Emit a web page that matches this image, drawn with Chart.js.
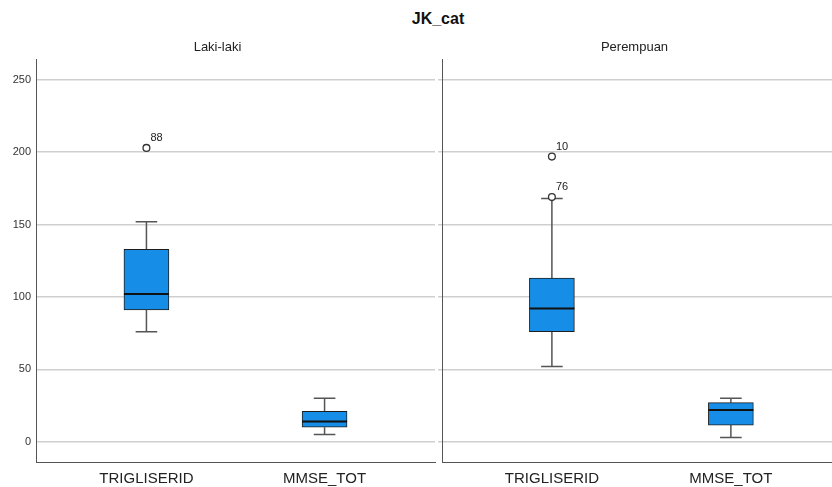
<!DOCTYPE html>
<html>
<head>
<meta charset="utf-8">
<script src="https://cdn.jsdelivr.net/npm/chart.js@4"></script>
<style>
  body { margin: 0; background: #fff; }
  #wrap { position: relative; width: 832px; height: 487px; }
  #mainTitle { position: absolute; left: 0; top: 10px; width: 876px; text-align: center;
    font: bold 16px Arial, "Liberation Sans", sans-serif; color: #111; }
  canvas { position: absolute; top: 0; }
</style>
</head>
<body>
<div id="wrap">
  <div id="mainTitle">JK_cat</div>
  <canvas id="lakiChart" width="437" height="487" style="left:0"></canvas>
  <canvas id="perempuanChart" width="395" height="487" style="left:437px"></canvas>
</div>
<script>
const categories = ['TRIGLISERID', 'MMSE_TOT']
const yTicks = [0, 50, 100, 150, 200, 250]

// Laki-laki
const lakiMin = [76, 5]
const lakiQ1 = [91, 10]
const lakiMedian = [102, 14]
const lakiQ3 = [133, 21]
const lakiMax = [152, 30]
const lakiOutliers = [203]
const lakiOutlierCat = [0]
const lakiOutlierIds = ['88']

// Perempuan
const perMin = [52, 3]
const perQ1 = [76, 11.5]
const perMedian = [92, 22]
const perQ3 = [113, 27]
const perMax = [168, 30]
const perOutliers = [197, 169]
const perOutlierCat = [0, 0]
const perOutlierIds = ['10', '76']

const FONT = 'Arial, "Liberation Sans", sans-serif'

// whiskers, medians and outlier ids, drawn through the chart scales
const boxplotPlugin = {
  id: 'boxplot',
  beforeDatasetsDraw(chart) {
    const { ctx, scales: { x, y } } = chart
    const s = chart.data.datasets[0].stats
    const bars = chart.getDatasetMeta(0).data
    ctx.save()
    ctx.strokeStyle = '#555'
    ctx.lineWidth = 1.5
    s.min.forEach((_, i) => {
      const cx = x.getPixelForValue(i)
      const half = bars[i].width * 0.24
      ctx.beginPath()
      ctx.moveTo(cx, y.getPixelForValue(s.q3[i]))
      ctx.lineTo(cx, y.getPixelForValue(s.max[i]))
      ctx.moveTo(cx - half, y.getPixelForValue(s.max[i]))
      ctx.lineTo(cx + half, y.getPixelForValue(s.max[i]))
      ctx.moveTo(cx, y.getPixelForValue(s.q1[i]))
      ctx.lineTo(cx, y.getPixelForValue(s.min[i]))
      ctx.moveTo(cx - half, y.getPixelForValue(s.min[i]))
      ctx.lineTo(cx + half, y.getPixelForValue(s.min[i]))
      ctx.stroke()
    })
    ctx.restore()
  },
  afterDatasetsDraw(chart) {
    const { ctx, scales: { x, y } } = chart
    const s = chart.data.datasets[0].stats
    const bars = chart.getDatasetMeta(0).data
    ctx.save()
    ctx.strokeStyle = '#111'
    ctx.lineWidth = 2
    s.median.forEach((m, i) => {
      const half = bars[i].width / 2
      const cx = x.getPixelForValue(i)
      const py = y.getPixelForValue(m)
      ctx.beginPath()
      ctx.moveTo(cx - half, py)
      ctx.lineTo(cx + half, py)
      ctx.stroke()
    })
    const ids = chart.data.datasets[1].ids
    ctx.fillStyle = '#222'
    ctx.font = '11px ' + FONT
    ctx.textAlign = 'left'
    ctx.textBaseline = 'middle'
    chart.getDatasetMeta(1).data.forEach((pt, i) => {
      ctx.fillText(ids[i], pt.x + 4, pt.y - 10)
    })
    ctx.restore()
  }
}

function makePanel(canvasId, title, stats, outliers, outlierCat, outlierIds, showLabels, xRange) {
  const ctx = document.getElementById(canvasId).getContext('2d')
  new Chart(ctx, {
    type: 'bar',
    data: {
      datasets: [
        {
          type: 'bar',
          data: categories.map((c, i) => ({ x: i, y: [stats.q1[i], stats.q3[i]] })),
          stats: stats,
          backgroundColor: '#168de6',
          borderColor: '#1e1e1e',
          borderWidth: 1,
          borderSkipped: false,
          barThickness: 45
        },
        {
          type: 'scatter',
          data: outliers.map((v, i) => ({ x: outlierCat[i], y: v })),
          ids: outlierIds,
          pointRadius: 3.4,
          pointBackgroundColor: '#fff',
          pointBorderColor: '#333',
          pointBorderWidth: 1.3
        }
      ]
    },
    options: {
      responsive: false,
      animation: false,
      layout: { autoPadding: false, padding: { right: showLabels ? 2 : 0 } },
      plugins: {
        legend: { display: false },
        tooltip: { enabled: false },
        title: {
          display: true,
          text: title,
          color: '#222',
          font: { family: FONT, size: 13, weight: 'normal' },
          padding: { top: 40, bottom: 4 }
        }
      },
      scales: {
        x: {
          type: 'linear',
          min: xRange[0],
          max: xRange[1],
          offset: false,
          grid: { display: false, drawTicks: false },
          border: { color: '#555', width: 1 },
          afterBuildTicks: scale => { scale.ticks = categories.map((c, i) => ({ value: i })) },
          afterFit: scale => {
            scale.height = 25
            scale.paddingLeft = 0
            scale.paddingRight = 0
          },
          ticks: {
            callback: v => categories[v],
            color: '#222',
            font: { family: FONT, size: 15 },
            padding: 8,
            maxRotation: 0
          }
        },
        y: {
          min: -14,
          max: 264,
          afterBuildTicks: scale => { scale.ticks = yTicks.map(v => ({ value: v })) },
          afterFit: scale => {
            scale.width = showLabels ? 36 : 5
            scale.paddingTop = 0
            scale.paddingBottom = 0
          },
          grid: { color: '#cfcfcf', lineWidth: 1.5, drawTicks: !showLabels, tickLength: 4 },
          border: { color: '#555', width: 1 },
          ticks: {
            display: showLabels,
            color: '#333',
            font: { family: FONT, size: 11 },
            padding: 5
          }
        }
      }
    },
    plugins: [boxplotPlugin]
  })
}

makePanel('lakiChart', 'Laki-laki',
  { min: lakiMin, q1: lakiQ1, median: lakiMedian, q3: lakiQ3, max: lakiMax },
  lakiOutliers, lakiOutlierCat, lakiOutlierIds, true, [-0.62, 1.62])

makePanel('perempuanChart', 'Perempuan',
  { min: perMin, q1: perQ1, median: perMedian, q3: perQ3, max: perMax },
  perOutliers, perOutlierCat, perOutlierIds, false, [-0.614, 1.565])
</script>
</body>
</html>
